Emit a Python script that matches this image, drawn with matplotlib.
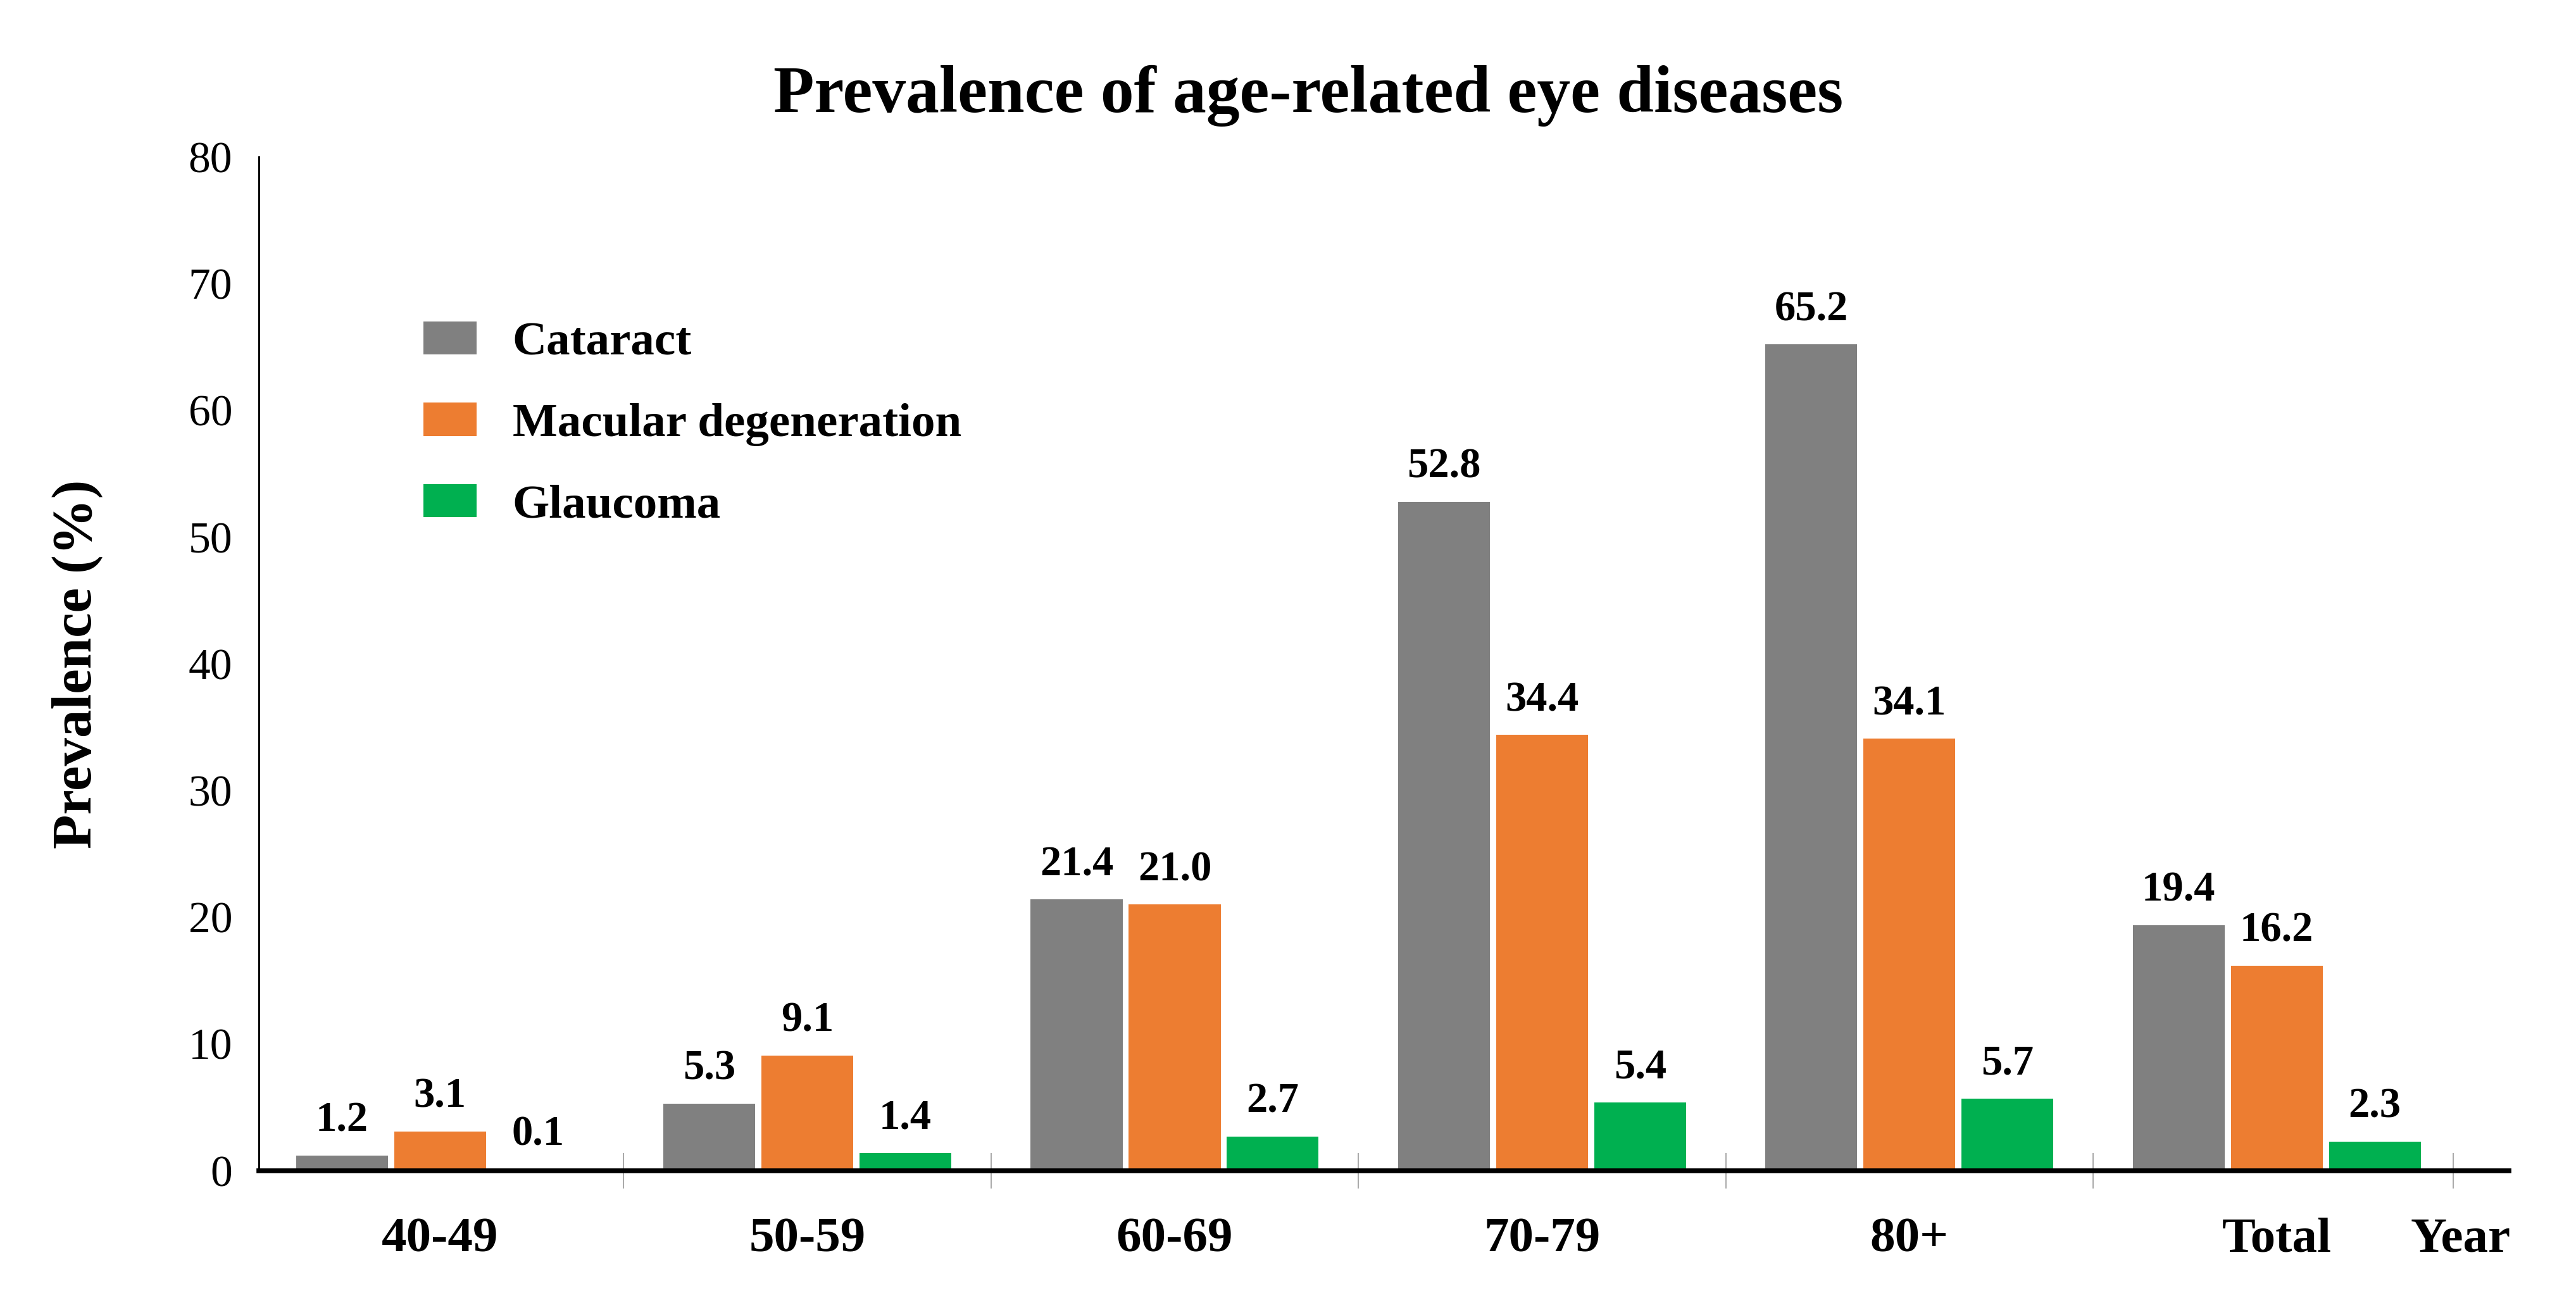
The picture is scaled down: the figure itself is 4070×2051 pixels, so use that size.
import matplotlib
matplotlib.use("Agg")
import matplotlib.pyplot as plt
from matplotlib.ticker import FixedLocator
import numpy as np

categories = ["40-49", "50-59", "60-69", "70-79", "80+", "Total"]
series_names = ["Cataract", "Macular degeneration", "Glaucoma"]
cataract = [1.2, 5.3, 21.4, 52.8, 65.2, 19.4]
macular = [3.1, 9.1, 21.0, 34.4, 34.1, 16.2]
glaucoma = [0.1, 1.4, 2.7, 5.4, 5.7, 2.3]
colors = ["#808080", "#ED7D31", "#00B050"]
yticks = [0, 10, 20, 30, 40, 50, 60, 70, 80]
x_axis_name = "Year"
y_axis_name = "Prevalence (%)"
title = "Prevalence of age-related eye diseases"

plt.rcParams['font.family'] = ['Liberation Serif', 'DejaVu Serif']

W, H = 4070, 2051
fig = plt.figure(figsize=(W / 100, H / 100), dpi=100)
left, right, top, bottom = 409, 3964, 248, 1850
ax = fig.add_axes([left / W, 1 - bottom / H, (right - left) / W, (bottom - top) / H])

x = np.arange(len(categories))
width = 0.25
offsets = [-0.267, 0.0, 0.267]
for vals, off, col, name in zip([cataract, macular, glaucoma], offsets, colors, series_names):
    ax.bar(x + off, vals, width, color=col, label=name, zorder=2)
    for xi, v in zip(x + off, vals):
        ax.text(xi, v + 1.2, f"{v:.1f}", ha="center", va="bottom",
                fontsize=48, fontweight="bold", zorder=3)

ax.set_xlim(-0.493, 5.632)
ax.set_ylim(0, 80)
ax.set_yticks(yticks)
ax.set_yticklabels([str(t) for t in yticks], fontsize=50)
ax.tick_params(axis="y", length=0, pad=30)

ax.xaxis.set_major_locator(FixedLocator(list(x) + [5.5]))
ax.set_xticklabels(categories + [x_axis_name], fontsize=57, fontweight="bold")
ax.tick_params(axis="x", which="major", length=0, pad=53)
ax.xaxis.set_minor_locator(FixedLocator([i + 0.5 for i in range(len(categories) - 1)] + [5.48]))
ax.tick_params(axis="x", which="minor", length=40, width=1.2, color="#999999", direction="inout")

for s in ["top", "right"]:
    ax.spines[s].set_visible(False)
ax.spines["left"].set_linewidth(2.2)
ax.spines["bottom"].set_linewidth(5.5)
ax.spines["bottom"].set_zorder(4)

ax.set_ylabel(y_axis_name, fontsize=64, fontweight="bold")
ax.yaxis.set_label_coords(-0.0695, 0.5)

ax.legend(loc="upper left", bbox_to_anchor=(0.0731, 0.838), frameon=False,
          prop={"weight": "bold", "size": 54},
          handlelength=1.12, handleheight=0.7, handletextpad=0.76,
          labelspacing=0.8, borderpad=0, borderaxespad=0)

fig.text(0.508, 0.926, title, ha="center", va="center", fontsize=76, fontweight="bold")

fig.savefig("out.png", dpi=100)
